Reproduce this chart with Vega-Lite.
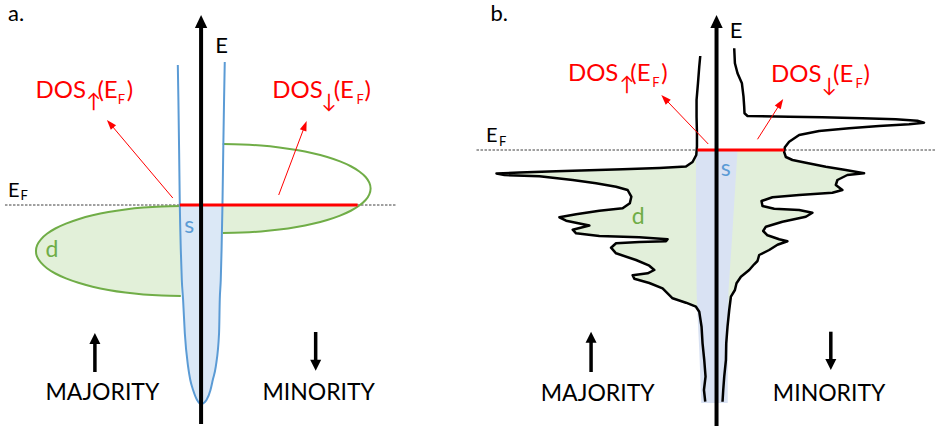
{
  "$schema": "https://vega.github.io/schema/vega-lite/v6.json",
  "width": 936,
  "height": 428,
  "autosize": {"type": "fit", "contains": "padding"},
  "padding": 0,
  "background": "white",
  "config": {"view": {"stroke": null}},
  "datasets": {
    "efDash": [{"x": 5, "x2": 396, "y": 205}, {"x": 477, "x2": 936, "y": 150}],
    "dLeftA": [{"x":181,"y":206},{"x":162.1,"y":206.4},{"x":143.5,"y":207.5},{"x":125.5,"y":209.4},{"x":108.5,"y":212},{"x":92.7,"y":215.3},{"x":78.5,"y":219.2},{"x":66,"y":223.6},{"x":55.4,"y":228.5},{"x":47,"y":233.8},{"x":41,"y":239.3},{"x":37.2,"y":245.1},{"x":36,"y":251},{"x":37.2,"y":256.9},{"x":41,"y":262.7},{"x":47,"y":268.2},{"x":55.4,"y":273.5},{"x":66,"y":278.4},{"x":78.5,"y":282.8},{"x":92.7,"y":286.7},{"x":108.5,"y":290},{"x":125.5,"y":292.6},{"x":143.5,"y":294.5},{"x":162.1,"y":295.6},{"x":181,"y":296}],
    "dRightFillA": [{"x":222.7,"y":205},{"x":360.4,"y":205},{"x":355.8,"y":208.2},{"x":351.2,"y":210.75},{"x":340.4,"y":215.6},{"x":327.6,"y":220},{"x":313.1,"y":223.8},{"x":297,"y":227},{"x":279.6,"y":229.6},{"x":261.3,"y":231.5},{"x":242.3,"y":232.6},{"x":223,"y":233}],
    "dRightA": [{"x":223,"y":144},{"x":242.3,"y":144.4},{"x":261.3,"y":145.5},{"x":279.6,"y":147.4},{"x":297,"y":150},{"x":313.1,"y":153.2},{"x":327.6,"y":157},{"x":340.4,"y":161.4},{"x":351.2,"y":166.25},{"x":359.7,"y":171.5},{"x":366,"y":177},{"x":369.7,"y":182.7},{"x":371,"y":188.5},{"x":369.7,"y":194.3},{"x":366,"y":200},{"x":359.7,"y":205.5},{"x":351.2,"y":210.75},{"x":340.4,"y":215.6},{"x":327.6,"y":220},{"x":313.1,"y":223.8},{"x":297,"y":227},{"x":279.6,"y":229.6},{"x":261.3,"y":231.5},{"x":242.3,"y":232.6},{"x":223,"y":233}],
    "sFillA": [{"x":180,"y":205},{"x":181,"y":250},{"x":182,"y":280},{"x":183.3,"y":300},{"x":185,"y":333},{"x":188.3,"y":366.7},{"x":190.5,"y":380},{"x":193.3,"y":390},{"x":197.3,"y":400},{"x":201.5,"y":404},{"x":206.7,"y":400},{"x":210.7,"y":390},{"x":213,"y":380},{"x":216,"y":366.7},{"x":219.3,"y":333},{"x":220,"y":300},{"x":221,"y":280},{"x":221.8,"y":250},{"x":222.7,"y":205}],
    "parabolaA": [{"x":178,"y":65},{"x":178.6,"y":100},{"x":179.3,"y":150},{"x":180,"y":205},{"x":181,"y":250},{"x":182,"y":280},{"x":183.3,"y":300},{"x":185,"y":333},{"x":188.3,"y":366.7},{"x":190.5,"y":380},{"x":193.3,"y":390},{"x":197.3,"y":400},{"x":201.5,"y":404},{"x":206.7,"y":400},{"x":210.7,"y":390},{"x":213,"y":380},{"x":216,"y":366.7},{"x":219.3,"y":333},{"x":220,"y":300},{"x":221,"y":280},{"x":221.8,"y":250},{"x":222.7,"y":205},{"x":223.5,"y":150},{"x":224.3,"y":100},{"x":225,"y":62}],
    "greenFillB": [{"x":697.7,"y":150},{"x":697,"y":155},{"x":693.3,"y":162},{"x":686.7,"y":166.5},{"x":660,"y":168},{"x":623.3,"y":169.3},{"x":590,"y":170.3},{"x":556.7,"y":171.3},{"x":520,"y":172.5},{"x":497,"y":173.5},{"x":505,"y":175},{"x":540,"y":176.3},{"x":573.3,"y":180},{"x":596.7,"y":183.3},{"x":616.7,"y":186.7},{"x":628.3,"y":190},{"x":632,"y":196.7},{"x":630.5,"y":203.3},{"x":623.3,"y":208.3},{"x":600,"y":210.7},{"x":576.7,"y":214.3},{"x":560,"y":217.3},{"x":566.7,"y":220.7},{"x":590,"y":225.5},{"x":573.3,"y":229.7},{"x":576.7,"y":233.3},{"x":600,"y":236},{"x":640,"y":237.3},{"x":668.3,"y":239.3},{"x":666.7,"y":241.3},{"x":640,"y":242},{"x":616.7,"y":243.3},{"x":611.7,"y":247.7},{"x":616.7,"y":253.3},{"x":636.7,"y":260},{"x":650,"y":265.7},{"x":655,"y":270},{"x":648.3,"y":273.3},{"x":633.3,"y":275.3},{"x":635,"y":278.7},{"x":650,"y":283},{"x":663.3,"y":288.3},{"x":673.3,"y":298.3},{"x":686.7,"y":302.7},{"x":696.7,"y":306.7},{"x":700,"y":311.7},{"x":702.3,"y":326.7},{"x":703.3,"y":343.3},{"x":705,"y":360},{"x":706.3,"y":376.7},{"x":704.7,"y":390},{"x":706,"y":401.7},{"x":723.3,"y":401.7},{"x":724,"y":390},{"x":725,"y":376.7},{"x":726.7,"y":360},{"x":727,"y":343.3},{"x":728.3,"y":326.7},{"x":730,"y":310},{"x":731.7,"y":296.7},{"x":735.7,"y":290},{"x":737.3,"y":283.3},{"x":741.7,"y":276.7},{"x":750,"y":270},{"x":755,"y":264.3},{"x":758.3,"y":261},{"x":760,"y":255},{"x":770,"y":250},{"x":778.3,"y":244.7},{"x":788.3,"y":241.3},{"x":780,"y":239.3},{"x":768.3,"y":235.3},{"x":764,"y":231},{"x":766.7,"y":226.7},{"x":783.3,"y":221.7},{"x":806.7,"y":216.7},{"x":813.3,"y":212.7},{"x":800,"y":210},{"x":775,"y":208.7},{"x":763.3,"y":206},{"x":762.3,"y":201},{"x":773.3,"y":197.3},{"x":800,"y":195},{"x":833.3,"y":192.7},{"x":843.3,"y":190},{"x":836.7,"y":185},{"x":838.3,"y":180},{"x":848.3,"y":175},{"x":865,"y":173.3},{"x":846.7,"y":170},{"x":826.7,"y":166.7},{"x":806.7,"y":162.7},{"x":793.3,"y":160},{"x":786.7,"y":157},{"x":785,"y":152},{"x":785.3,"y":150}],
    "blueFillB": [{"x":696.7,"y":150},{"x":738.3,"y":150},{"x":735.5,"y":195},{"x":732.7,"y":240},{"x":729.3,"y":290},{"x":728.5,"y":340},{"x":728.5,"y":403},{"x":702,"y":403},{"x":700,"y":350},{"x":698,"y":310},{"x":697.3,"y":290},{"x":696.7,"y":200}],
    "leftOutlineB": [{"x":701,"y":56},{"x":700,"y":66.7},{"x":698.7,"y":83.3},{"x":697.3,"y":100},{"x":697.3,"y":116.7},{"x":697.7,"y":133.3},{"x":697.7,"y":146.7},{"x":697,"y":155},{"x":693.3,"y":162},{"x":686.7,"y":166.5},{"x":660,"y":168},{"x":623.3,"y":169.3},{"x":590,"y":170.3},{"x":556.7,"y":171.3},{"x":520,"y":172.5},{"x":497,"y":173.5},{"x":505,"y":175},{"x":540,"y":176.3},{"x":573.3,"y":180},{"x":596.7,"y":183.3},{"x":616.7,"y":186.7},{"x":628.3,"y":190},{"x":632,"y":196.7},{"x":630.5,"y":203.3},{"x":623.3,"y":208.3},{"x":600,"y":210.7},{"x":576.7,"y":214.3},{"x":560,"y":217.3},{"x":566.7,"y":220.7},{"x":590,"y":225.5},{"x":573.3,"y":229.7},{"x":576.7,"y":233.3},{"x":600,"y":236},{"x":640,"y":237.3},{"x":668.3,"y":239.3},{"x":666.7,"y":241.3},{"x":640,"y":242},{"x":616.7,"y":243.3},{"x":611.7,"y":247.7},{"x":616.7,"y":253.3},{"x":636.7,"y":260},{"x":650,"y":265.7},{"x":655,"y":270},{"x":648.3,"y":273.3},{"x":633.3,"y":275.3},{"x":635,"y":278.7},{"x":650,"y":283},{"x":663.3,"y":288.3},{"x":673.3,"y":298.3},{"x":686.7,"y":302.7},{"x":696.7,"y":306.7},{"x":700,"y":311.7},{"x":702.3,"y":326.7},{"x":703.3,"y":343.3},{"x":705,"y":360},{"x":706.3,"y":376.7},{"x":704.7,"y":390},{"x":706,"y":401.7}],
    "rightOutlineB": [{"x":735,"y":48.3},{"x":735.7,"y":63.3},{"x":738.3,"y":73.3},{"x":742.7,"y":83.3},{"x":744.3,"y":96.7},{"x":745,"y":106.7},{"x":745.3,"y":113.3},{"x":748.3,"y":116},{"x":790,"y":116.7},{"x":823.3,"y":117.3},{"x":863.3,"y":118.3},{"x":896.7,"y":119.3},{"x":918.3,"y":120.7},{"x":925,"y":122.7},{"x":910,"y":124.3},{"x":880,"y":126},{"x":850,"y":128.3},{"x":820,"y":131},{"x":800,"y":135},{"x":790,"y":141.7},{"x":785.7,"y":147.3},{"x":785,"y":152},{"x":786.7,"y":157},{"x":793.3,"y":160},{"x":806.7,"y":162.7},{"x":826.7,"y":166.7},{"x":846.7,"y":170},{"x":865,"y":173.3},{"x":848.3,"y":175},{"x":838.3,"y":180},{"x":836.7,"y":185},{"x":843.3,"y":190},{"x":833.3,"y":192.7},{"x":800,"y":195},{"x":773.3,"y":197.3},{"x":762.3,"y":201},{"x":763.3,"y":206},{"x":775,"y":208.7},{"x":800,"y":210},{"x":813.3,"y":212.7},{"x":806.7,"y":216.7},{"x":783.3,"y":221.7},{"x":766.7,"y":226.7},{"x":764,"y":231},{"x":768.3,"y":235.3},{"x":780,"y":239.3},{"x":788.3,"y":241.3},{"x":778.3,"y":244.7},{"x":770,"y":250},{"x":760,"y":255},{"x":758.3,"y":261},{"x":755,"y":264.3},{"x":750,"y":270},{"x":741.7,"y":276.7},{"x":737.3,"y":283.3},{"x":735.7,"y":290},{"x":731.7,"y":296.7},{"x":730,"y":310},{"x":728.3,"y":326.7},{"x":727,"y":343.3},{"x":726.7,"y":360},{"x":725,"y":376.7},{"x":724,"y":390},{"x":723.3,"y":401.7}],
    "efRed": [{"x": 180, "x2": 358, "y": 205}, {"x": 698.3, "x2": 785, "y": 150}],
    "redShafts": [{"x":173,"y":198,"x2":110.3,"y2":123.8},{"x":279,"y":195,"x2":305.2,"y2":125.7},{"x":709,"y":144,"x2":665.5,"y2":98.6},{"x":758.3,"y":139.3,"x2":781.3,"y2":103.2}],
    "redHeads": [{"x":110.3,"y":123.8,"rot":319.4},{"x":305.2,"y":125.7,"rot":20.7},{"x":665.5,"y":98.6,"rot":316.2},{"x":781.3,"y":103.2,"rot":33}],
    "axes": [{"x":201.3,"y":25,"y2":424},{"x":717.3,"y":25,"y2":426}],
    "axisHeads": [{"x":201.3,"y":21.5,"rot":0},{"x":717.3,"y":21.5,"rot":0}],
    "spinShafts": [{"x":95,"y":340,"y2":372},{"x":316,"y":332,"y2":364},{"x":591.7,"y":339,"y2":372},{"x":831.7,"y":331.7,"y2":363}],
    "spinHeads": [{"x":95,"y":338.5,"rot":0},{"x":316,"y":365.2,"rot":180},{"x":591.7,"y":337.2,"rot":0},{"x":831.7,"y":364.5,"rot":180}],
    "txtBlack": [{"x":8,"y":21,"t":"a."},{"x":491,"y":21,"t":"b."},{"x":215.5,"y":52.7,"t":"E"},{"x":730.5,"y":38.3,"t":"E"}],
    "txtCaps": [{"x":102.5,"y":400,"t":"MAJORITY"},{"x":319,"y":399.5,"t":"MINORITY"},{"x":598.3,"y":400.7,"t":"MAJORITY"},{"x":830,"y":400.7,"t":"MINORITY"}],
    "txtEF": [{"x":8,"y":197,"t":"E"},{"x":486.5,"y":142,"t":"E"}],
    "txtEFsub": [{"x":20.5,"y":200,"t":"F"},{"x":499.5,"y":145.5,"t":"F"}],
    "txtRedBig": [{"x":35.5,"y":98,"t":"DOS"},{"x":97.5,"y":98,"t":"(E"},{"x":127,"y":98,"t":")"},{"x":272.5,"y":98,"t":"DOS"},{"x":334,"y":98,"t":"(E"},{"x":365,"y":98,"t":")"},{"x":568.5,"y":81,"t":"DOS"},{"x":631,"y":81,"t":"(E"},{"x":662,"y":81,"t":")"},{"x":771.8,"y":81.5,"t":"DOS"},{"x":834,"y":81.5,"t":"(E"},{"x":864.5,"y":81.5,"t":")"}],
    "txtRedSub": [{"x":118,"y":104,"t":"F"},{"x":357,"y":104,"t":"F"},{"x":653,"y":87,"t":"F"},{"x":856.5,"y":87.5,"t":"F"}],
    "txtRedArrow": [{"x":86,"y":108,"t":"↑"},{"x":321.5,"y":108,"t":"↓"},{"x":620,"y":91,"t":"↑"},{"x":822.5,"y":91.5,"t":"↓"}],
    "txtS": [{"x":184.5,"y":233.3,"t":"s"},{"x":721.5,"y":176,"t":"s"}],
    "txtD": [{"x":45.5,"y":257.3,"t":"d"},{"x":632.5,"y":224,"t":"d"}]
  },
  "encoding": {
    "x": {"field": "x", "type": "quantitative", "scale": {"domain": [0, 936], "nice": false, "zero": false}, "axis": null},
    "y": {"field": "y", "type": "quantitative", "scale": {"domain": [0, 428], "nice": false, "zero": false, "reverse": true}, "axis": null}
  },
  "layer": [
    {"data": {"name": "efDash"}, "mark": {"type": "rule", "color": "#404040", "strokeWidth": 1, "strokeDash": [2.5, 1.5]}, "encoding": {"x2": {"field": "x2"}}},
    {"data": {"name": "dLeftA"}, "mark": {"type": "line", "fill": "#e2f0d9", "stroke": "#70ad47", "strokeWidth": 2, "interpolate": "cardinal"}, "encoding": {"order": {"value": null}}},
    {"data": {"name": "dRightFillA"}, "mark": {"type": "line", "fill": "#e2f0d9", "stroke": "#e2f0d9", "strokeOpacity": 0, "interpolate": "linear"}, "encoding": {"order": {"value": null}}},
    {"data": {"name": "dRightA"}, "mark": {"type": "line", "stroke": "#70ad47", "strokeWidth": 2, "interpolate": "cardinal"}, "encoding": {"order": {"value": null}}},
    {"data": {"name": "sFillA"}, "mark": {"type": "line", "fill": "#dbe8f6", "stroke": "#dbe8f6", "strokeOpacity": 0, "interpolate": "monotone"}, "encoding": {"order": {"value": null}}},
    {"data": {"name": "parabolaA"}, "mark": {"type": "line", "stroke": "#5b9bd5", "strokeWidth": 2, "interpolate": "monotone"}, "encoding": {"order": {"value": null}}},
    {"data": {"name": "greenFillB"}, "mark": {"type": "line", "fill": "#e2efda", "stroke": "#e2efda", "strokeOpacity": 0}, "encoding": {"order": {"value": null}}},
    {"data": {"name": "blueFillB"}, "mark": {"type": "line", "fill": "#d9e2f3", "stroke": "#d9e2f3", "strokeOpacity": 0}, "encoding": {"order": {"value": null}}},
    {"data": {"name": "leftOutlineB"}, "mark": {"type": "line", "stroke": "black", "strokeWidth": 2.5, "strokeJoin": "round"}, "encoding": {"order": {"value": null}}},
    {"data": {"name": "rightOutlineB"}, "mark": {"type": "line", "stroke": "black", "strokeWidth": 2.5, "strokeJoin": "round"}, "encoding": {"order": {"value": null}}},
    {"data": {"name": "efRed"}, "mark": {"type": "rule", "color": "#ff0000", "strokeWidth": 3}, "encoding": {"x2": {"field": "x2"}}},
    {"data": {"name": "redShafts"}, "mark": {"type": "rule", "color": "#ff0000", "strokeWidth": 1}, "encoding": {"x2": {"field": "x2"}, "y2": {"field": "y2"}}},
    {"data": {"name": "redHeads"}, "mark": {"type": "point", "shape": "M0,-1L-0.7,1L0.7,1Z", "filled": true, "color": "#ff0000", "opacity": 1, "size": 100}, "encoding": {"angle": {"field": "rot", "type": "quantitative", "scale": null}}},
    {"data": {"name": "axes"}, "mark": {"type": "rule", "color": "black", "strokeWidth": 4}, "encoding": {"y2": {"field": "y2"}}},
    {"data": {"name": "axisHeads"}, "mark": {"type": "point", "shape": "M0,-1L-0.95,1L0.95,1Z", "filled": true, "color": "black", "opacity": 1, "size": 169}, "encoding": {"angle": {"field": "rot", "type": "quantitative", "scale": null}}},
    {"data": {"name": "spinShafts"}, "mark": {"type": "rule", "color": "black", "strokeWidth": 3.5}, "encoding": {"y2": {"field": "y2"}}},
    {"data": {"name": "spinHeads"}, "mark": {"type": "point", "shape": "M0,-1L-1,1L1,1Z", "filled": true, "color": "black", "opacity": 1, "size": 121}, "encoding": {"angle": {"field": "rot", "type": "quantitative", "scale": null}}},
    {"data": {"name": "txtBlack"}, "mark": {"type": "text", "font": "Lato", "fontSize": 22, "align": "left", "baseline": "alphabetic", "color": "black"}, "encoding": {"text": {"field": "t"}}},
    {"data": {"name": "txtCaps"}, "mark": {"type": "text", "font": "Lato", "fontSize": 23, "align": "center", "baseline": "alphabetic", "color": "black"}, "encoding": {"text": {"field": "t"}}},
    {"data": {"name": "txtEF"}, "mark": {"type": "text", "font": "Lato", "fontSize": 20, "align": "left", "baseline": "alphabetic", "color": "black"}, "encoding": {"text": {"field": "t"}}},
    {"data": {"name": "txtEFsub"}, "mark": {"type": "text", "font": "Lato", "fontSize": 13, "align": "left", "baseline": "alphabetic", "color": "black"}, "encoding": {"text": {"field": "t"}}},
    {"data": {"name": "txtRedBig"}, "mark": {"type": "text", "font": "Lato", "fontSize": 24, "align": "left", "baseline": "alphabetic", "color": "#ff0000"}, "encoding": {"text": {"field": "t"}}},
    {"data": {"name": "txtRedSub"}, "mark": {"type": "text", "font": "Lato", "fontSize": 13, "align": "left", "baseline": "alphabetic", "color": "#ff0000"}, "encoding": {"text": {"field": "t"}}},
    {"data": {"name": "txtRedArrow"}, "mark": {"type": "text", "font": "Lato, DejaVu Sans", "fontSize": 20, "align": "left", "baseline": "alphabetic", "color": "#ff0000"}, "encoding": {"text": {"field": "t"}}},
    {"data": {"name": "txtS"}, "mark": {"type": "text", "font": "Lato", "fontSize": 23, "align": "left", "baseline": "alphabetic", "color": "#5b9bd5"}, "encoding": {"text": {"field": "t"}}},
    {"data": {"name": "txtD"}, "mark": {"type": "text", "font": "Lato", "fontSize": 23, "align": "left", "baseline": "alphabetic", "color": "#70ad47"}, "encoding": {"text": {"field": "t"}}}
  ]
}
